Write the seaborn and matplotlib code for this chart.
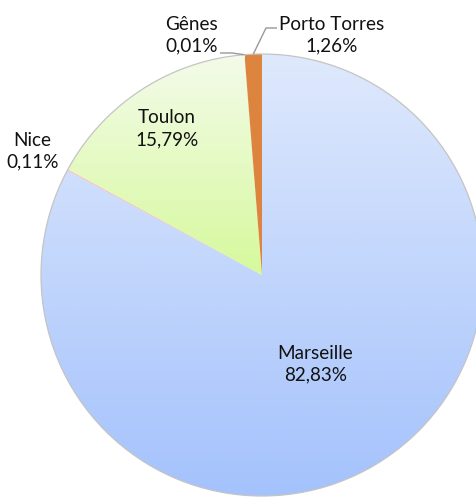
import numpy as np
import matplotlib.pyplot as plt
import matplotlib.colors as mcolors
import seaborn as sns

ports = ['Marseille', 'Nice', 'Toulon', 'Gênes', 'Porto Torres']
shares = [82.83, 0.11, 15.79, 0.01, 1.26]
share_labels = ['82,83%', '0,11%', '15,79%', '0,01%', '1,26%']

# gradient (top, bottom) per slice
fills = [('#dfe9fc', '#a4c2fc'),
         ('#f4c7c3', '#f0a8a0'),
         ('#f4fbea', '#d6f99c'),
         ('#c9c9c9', '#a9a9a9'),
         ('#dd843f', '#dd843f')]

sns.set_theme(style='white')
plt.rcParams['font.family'] = ['Lato', 'DejaVu Sans']

W, H = 477, 497
fig = plt.figure(figsize=(W / 100, H / 100), dpi=100)
ax = fig.add_axes([0, 0, 1, 1])

cx, cy, r = 262, H - 275, 221

wedges, _ = ax.pie(shares, startangle=90, counterclock=False,
                   center=(cx, cy), radius=r, frame=True,
                   wedgeprops=dict(linewidth=0))
ax.set_xlim(0, W)
ax.set_ylim(0, H)
ax.set_aspect('equal')
ax.axis('off')

# gradient fills clipped to each wedge
for w, (top, bot) in zip(wedges, fills):
    w.set_facecolor('none')
    bb = w.get_path().get_extents(w.get_transform())
    bb = ax.transData.inverted().transform(bb)
    x0, y0 = bb[0]
    x1, y1 = bb[1]
    c0 = np.array(mcolors.to_rgb(top))
    c1 = np.array(mcolors.to_rgb(bot))
    t = np.linspace(0, 1, 256)[:, None]
    grad = (c0 * (1 - t) + c1 * t)[:, None, :]
    im = ax.imshow(grad, extent=(x0, x1, y0, y1), origin='upper',
                   aspect='auto', zorder=1, interpolation='bilinear')
    im.set_clip_path(w)

# soft outline around the pie
ax.add_patch(plt.Circle((cx, cy), r, fill=False, edgecolor='#c4c4c4',
                        linewidth=0.9, zorder=2))
ax.set_xlim(0, W)
ax.set_ylim(0, H)

fs = 13.6
txt_color = '#111111'
lsp = 1.33


def mid_dir(w):
    a = np.deg2rad((w.theta1 + w.theta2) / 2)
    return np.cos(a), np.sin(a)


# labels placed along the slice mid-angle
label_dist = {'Marseille': 0.47, 'Toulon': 0.79, 'Nice': 1.18}
for w, name, lab in zip(wedges, ports, share_labels):
    if name in label_dist:
        dx, dy = mid_dir(w)
        d = label_dist[name] * r
        ax.text(cx + dx * d, cy + dy * d, f'{name}\n{lab}', ha='center',
                va='center', fontsize=fs, color=txt_color,
                linespacing=lsp, zorder=3)

# small slices at the top get leader lines
w_g, w_p = wedges[3], wedges[4]
ax.text(192, H - 35, 'Gênes\n0,01%', ha='center', va='center',
        fontsize=fs, color=txt_color, linespacing=lsp, zorder=3)
ax.text(332, H - 35, 'Porto Torres\n1,26%', ha='center', va='center',
        fontsize=fs, color=txt_color, linespacing=lsp, zorder=3)

gdx, gdy = mid_dir(w_g)
pdx, pdy = mid_dir(w_p)
ax.plot([220, 232, cx + gdx * r], [H - 53, H - 53, cy + gdy * r],
        color='#999999', lw=1, zorder=3, solid_capstyle='butt')
ax.plot([277, 266, cx + pdx * r], [H - 28, H - 28, cy + pdy * r],
        color='#999999', lw=1, zorder=3, solid_capstyle='butt')

fig.savefig('out.png', dpi=100)
